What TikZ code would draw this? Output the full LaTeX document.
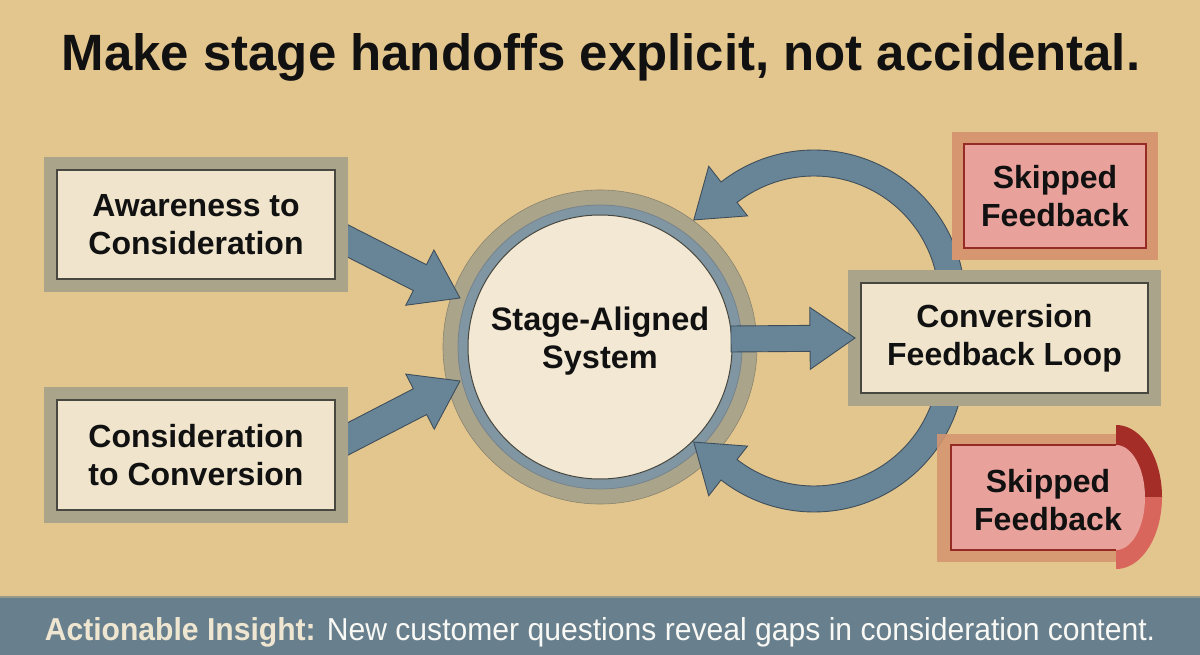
\documentclass[tikz,border=0pt]{standalone}
\usepackage{fontspec}
\setmainfont{Liberation Sans}
\usetikzlibrary{calc}
\definecolor{bgtan}{RGB}{227,197,142}
\definecolor{khaki}{RGB}{170,165,138}
\definecolor{cream}{RGB}{240,229,204}
\definecolor{creamlight}{RGB}{242,232,212}
\definecolor{darkline}{RGB}{72,72,64}
\definecolor{arrowblue}{RGB}{104,133,152}
\definecolor{arrowline}{RGB}{62,78,90}
\definecolor{ringblue}{RGB}{128,150,162}
\definecolor{barblue}{RGB}{104,127,141}
\definecolor{insightcream}{RGB}{238,230,208}
\definecolor{insightwhite}{RGB}{248,248,244}
\definecolor{salmon}{RGB}{214,150,112}
\definecolor{pinkfill}{RGB}{232,162,155}
\definecolor{redline}{RGB}{150,42,36}
\definecolor{reddark}{RGB}{165,45,40}
\definecolor{redlight}{RGB}{216,102,92}
\definecolor{titleblack}{RGB}{17,17,17}
\newcommand\boxfont{\fontsize{32}{38}\selectfont\bfseries}
\newcommand\blockarrow[5]{%
  \coordinate (bahead) at ($(#2)!#5!(#1)$);
  \filldraw[arrowfill] ($(#1)!#3!90:(#2)$) -- ($(bahead)!#3!-90:(#1)$) -- ($(bahead)!#4!-90:(#1)$) -- (#2) -- ($(bahead)!#4!90:(#1)$) -- ($(bahead)!#3!90:(#1)$) -- ($(#1)!#3!-90:(#2)$) -- cycle;}
\begin{document}
\begin{tikzpicture}[x=1pt,y=-1pt,
  framebox/.style={rectangle, inner sep=0pt, align=center, font=\boxfont, text=titleblack, fill=cream, draw=darkline, line width=1.2pt, preaction={draw=khaki, line width=26pt}},
  skipbox/.style={rectangle, inner sep=0pt, align=center, font=\boxfont, text=titleblack, fill=pinkfill, draw=redline, line width=1.2pt, preaction={draw=salmon, line width=24pt}},
  arrowfill/.style={fill=arrowblue, draw=arrowline, line width=0.9pt, line join=miter},
  txt/.style={inner sep=0pt, align=center, font=\boxfont, text=titleblack}]
\useasboundingbox (0,0) rectangle (1200,655);
\fill[bgtan] (0,0) rectangle (1200,655);
% bottom bar
\fill[barblue] (0,597) rectangle (1200,655);
\draw[color=khaki!70!barblue, line width=2pt] (0,597) -- (1200,597);
% title
\node[anchor=base, inner sep=0pt, text=titleblack] (title) at (601,71)
  {\resizebox{1078pt}{37pt}{\bfseries Make stage handoffs explicit, not accidental.}};
% circle rings
\filldraw[fill=khaki, draw=khaki!80!black, line width=0.6pt] (600,347) circle[radius=157];
\filldraw[fill=ringblue, draw=arrowline!70, line width=0.8pt] (600,347) circle[radius=142];
% input arrows
\coordinate (a1s) at (338,236);
\coordinate (a1t) at (460,298);
\coordinate (a2s) at (338,444);
\coordinate (a2t) at (460,381);
\blockarrow{a1s}{a1t}{14.5pt}{31pt}{45pt}
\blockarrow{a2s}{a2t}{14.5pt}{31pt}{45pt}
% curved feedback arrows
\filldraw[arrowfill] plot[domain=-12:128, samples=70] ({814+151*cos(\x)},{301-151*sin(\x)})
  -- ({814+171*cos(128)},{301-171*sin(128)})
  -- ({814+145*cos(146)},{301-145*sin(146)})
  -- ({814+108*cos(128)},{301-108*sin(128)})
  -- plot[domain=128:-12, samples=70] ({814+125*cos(\x)},{301-125*sin(\x)}) -- cycle;
\filldraw[arrowfill] plot[domain=-12:128, samples=70] ({814+151*cos(\x)},{361+151*sin(\x)})
  -- ({814+171*cos(128)},{361+171*sin(128)})
  -- ({814+145*cos(146)},{361+145*sin(146)})
  -- ({814+108*cos(128)},{361+108*sin(128)})
  -- plot[domain=128:-12, samples=70] ({814+125*cos(\x)},{361+125*sin(\x)}) -- cycle;
% central circle
\node[circle, minimum size=264pt, inner sep=0pt, fill=creamlight, draw=darkline, line width=1pt] (circ) at (600,347) {};
\node[txt, font=\fontsize{32.5}{38}\selectfont\bfseries] (circtext) at (600,341) {Stage-Aligned\\System};
% boxes
\node[framebox, minimum width=278pt, minimum height=109pt] (box1) at (196,224.5) {Awareness to\\Consideration};
\node[framebox, minimum width=278pt, minimum height=110pt] (box2) at (196,455) {Consideration\\to Conversion};
\node[framebox, minimum width=287pt, minimum height=110pt] (box3) at (1004.5,338) {Conversion\\Feedback Loop};
% output arrow
\coordinate (a3s) at (731,339);
\coordinate (a3t) at (855,338);
\blockarrow{a3s}{a3t}{13pt}{31pt}{45pt}
% skipped feedback 1
\node[skipbox, minimum width=182pt, minimum height=104pt] (skip1) at (1055,196) {Skipped\\Feedback};
% skipped feedback 2
\fill[salmon, opacity=0.88] (937,434) rectangle (1125,562);
\fill[reddark] (1116,497) -- plot[domain=90:0, samples=40] ({1116+46*cos(\x)},{497-72*sin(\x)}) -- cycle;
\fill[redlight] (1116,497) -- plot[domain=0:90, samples=40] ({1116+46*cos(\x)},{497+72*sin(\x)}) -- cycle;
\fill[pinkfill] (951,445) -- (1116,445) -- plot[domain=90:-90, samples=50] ({1116+29*cos(\x)},{497.5-52.5*sin(\x)}) -- (951,550) -- cycle;
\draw[redline, line width=1.2pt] (1116,445) -- (951,445) -- (951,550) -- (1116,550);
\node[txt] (skip2) at (1048,500) {Skipped\\Feedback};
% insight
\node[anchor=base, inner sep=0pt] (insight) at (600,640)
  {\resizebox{1110pt}{23pt}{\textcolor{insightcream}{\bfseries Actionable Insight:} \textcolor{insightwhite}{New customer questions reveal gaps in consideration content.}}};
\end{tikzpicture}
\end{document}
